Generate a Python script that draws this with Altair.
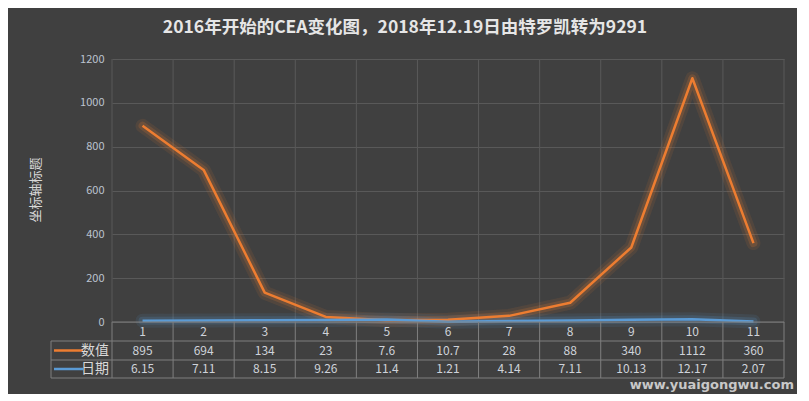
import altair as alt
import pandas as pd

# ---- data ----
categories = [1, 2, 3, 4, 5, 6, 7, 8, 9, 10, 11]
series_names = ["数值", "日期"]
values_shuzhi = [895, 694, 134, 23, 7.6, 10.7, 28, 88, 340, 1112, 360]
values_riqi = [6.15, 7.11, 8.15, 9.26, 11.4, 1.21, 4.14, 7.11, 10.13, 12.17, 2.07]
series_colors = ["#ED7D31", "#5B9BD5"]
y_ticks = [0, 200, 400, 600, 800, 1000, 1200]
title_text = "2016年开始的CEA变化图，2018年12.19日由特罗凯转为9291"
y_title = "坐标轴标题"
watermark = "www.yuaigongwu.com"

FONT = "Noto Sans CJK SC"
W, H = 672, 263
ROW_H = [19, 19, 18]  # header row, series rows (layout)

rows = []
for name, vals in zip(series_names, [values_shuzhi, values_riqi]):
    for c, v in zip(categories, vals):
        rows.append({"cat": c, "series": name, "value": v, "label": format(v, "g")})
df = pd.DataFrame(rows)
cat_df = pd.DataFrame({"cat": categories, "label": [str(c) for c in categories]})
bounds_df = pd.DataFrame({"b": [c - 0.5 for c in categories] + [categories[-1] + 0.5]})

xs = alt.Scale(domain=[categories[0] - 0.5, categories[-1] + 0.5], nice=False, zero=False)
ys = alt.Scale(domain=[y_ticks[0], y_ticks[-1]], nice=False)
X = alt.X("cat:Q", scale=xs, axis=None)
Xb = alt.X("b:Q", scale=xs, axis=None)
colscale = alt.Scale(domain=series_names, range=series_colors)

GRID = "#595959"
TABLE = "#7f7f7f"

# vertical gridlines inside plot
vgrid = alt.Chart(bounds_df).mark_rule(color=GRID, strokeWidth=1).encode(
    x=Xb, y=alt.value(0), y2=alt.value(H)
)

base = alt.Chart(df)
Y = alt.Y(
    "value:Q",
    scale=ys,
    axis=alt.Axis(
        values=y_ticks, format="d", grid=True, gridColor=GRID, gridWidth=1, domain=False, ticks=False,
        labelColor="#bcc3cf", labelFont=FONT, labelFontSize=11, labelPadding=8, title=None,
    ),
)
glow1 = base.mark_line(strokeWidth=14, opacity=0.10, strokeCap="round", strokeJoin="round").encode(
    x=X, y=Y, color=alt.Color("series:N", scale=colscale, legend=None)
)
glow2 = base.mark_line(strokeWidth=8, opacity=0.18, strokeCap="round", strokeJoin="round").encode(
    x=X, y=Y, color=alt.Color("series:N", scale=colscale, legend=None)
)
lines = base.mark_line(strokeWidth=2.5, strokeJoin="round").encode(
    x=X, y=Y, color=alt.Color("series:N", scale=colscale, legend=None)
)

# ---- data table ----
t_top = H
r1 = t_top + ROW_H[0]
r2 = r1 + ROW_H[1]
r3 = r2 + ROW_H[2]
LEFT = -61  # legend column left edge relative to plot

tv = alt.Chart(bounds_df).mark_rule(color=TABLE, strokeWidth=1).encode(
    x=Xb, y=alt.value(t_top), y2=alt.value(r3)
)
h_lines = [
    alt.Chart(cat_df.head(1)).mark_rule(color=TABLE, strokeWidth=1).encode(
        x=alt.value(0), x2=alt.value(W), y=alt.value(t_top)
    )
]
for yy in [r1, r2, r3]:
    h_lines.append(
        alt.Chart(cat_df.head(1)).mark_rule(color=TABLE, strokeWidth=1).encode(
            x=alt.value(LEFT), x2=alt.value(W), y=alt.value(yy)
        )
    )
left_v = alt.Chart(cat_df.head(1)).mark_rule(color=TABLE, strokeWidth=1).encode(
    x=alt.value(LEFT), y=alt.value(r1), y2=alt.value(r3)
)

hdr = alt.Chart(cat_df).mark_text(font=FONT, fontSize=12, color="#cfd3da", baseline="middle").encode(
    x=X, y=alt.value((t_top + r1) / 2), text="label:N"
)

layers = [vgrid, glow1, glow2, lines, tv, left_v] + h_lines + [hdr]
row_centers = [(r1 + r2) / 2, (r2 + r3) / 2]
for name, yc in zip(series_names, row_centers):
    layers.append(
        base.transform_filter(alt.datum.series == name)
        .mark_text(font=FONT, fontSize=12, color="#cfd3da", baseline="middle")
        .encode(x=X, y=alt.value(yc), text="label:N")
    )
    leg = base.transform_filter(alt.datum.series == name).transform_aggregate(
        n="count()", groupby=["series"]
    )
    layers.append(
        leg.mark_rule(strokeWidth=2.5).encode(
            x=alt.value(LEFT + 3), x2=alt.value(LEFT + 32), y=alt.value(yc),
            color=alt.Color("series:N", scale=colscale, legend=None),
        )
    )
    layers.append(
        leg.mark_text(font=FONT, fontSize=14, color="#d9d9d9", align="right", baseline="middle").encode(
            x=alt.value(-3), y=alt.value(yc), text="series:N"
        )
    )

title = alt.Chart(cat_df.head(1)).mark_text(
    text=title_text, font=FONT, fontSize=17.5, fontWeight="bold", color="#e6e6e6",
    align="center", baseline="middle",
).encode(x=alt.value(293), y=alt.value(-31))

ytitle = alt.Chart(cat_df.head(1)).mark_text(
    text=y_title, font=FONT, fontSize=13, color="#d9d9d9", angle=270,
    align="center", baseline="middle",
).encode(x=alt.value(-76), y=alt.value(131))

wm = alt.Chart(cat_df.head(1)).mark_text(
    text=watermark, font="DejaVu Sans", fontSize=13, fontWeight="bold", color="#c8c8c8",
    align="right", baseline="middle",
).encode(x=alt.value(W + 10), y=alt.value(H + 63))

chart = (
    alt.layer(*layers, title, ytitle, wm)
    .properties(
        width=W,
        height=H,
        autosize=alt.AutoSizeParams(type="none"),
        padding={"left": 104, "top": 51, "right": 13, "bottom": 72},
        background="#404040",
    )
    .configure_view(stroke=None)
)

chart.save("out.html", embed_options={"renderer": "svg", "actions": False})
